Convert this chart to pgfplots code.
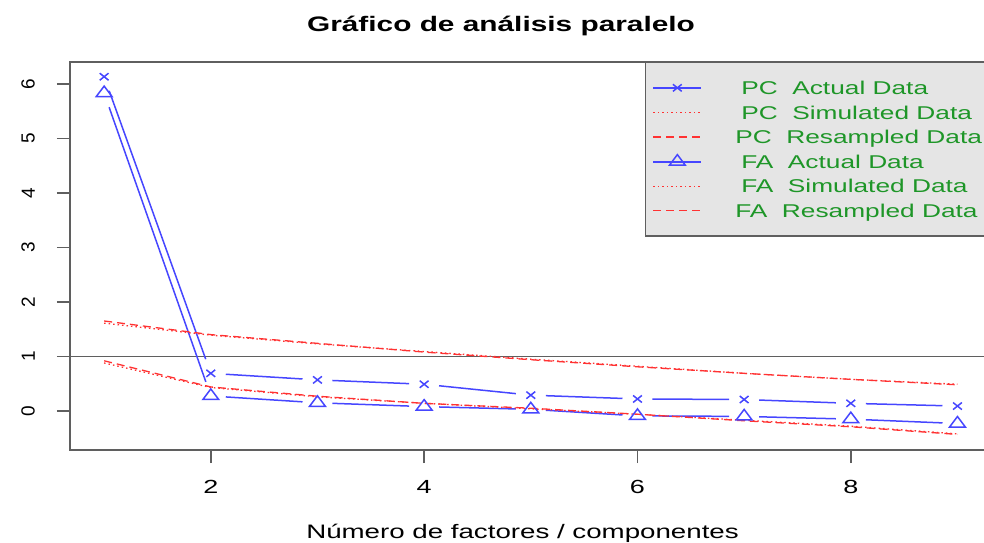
\documentclass[border=0pt]{standalone}
\usepackage{fontspec}
\setmainfont[FakeStretch=1.42]{Liberation Sans}
\newfontfamily\plainfont{Liberation Sans}
\usepackage{pgfplots}
\pgfplotsset{compat=1.18}
\definecolor{rblue}{RGB}{70,70,255}
\definecolor{rred}{RGB}{255,50,50}
\definecolor{rgreen}{RGB}{30,150,40}
\definecolor{rgray}{RGB}{95,95,95}
\definecolor{legfill}{RGB}{229,229,229}
\tikzset{
  rdot/.style={dash pattern={on 1.5pt off 3pt}},
  rdash/.style={dash pattern={on 8pt off 5pt}},
}
\pgfplotsset{
  bseg/.style={rblue, line width=1.5pt, shorten <=15pt, shorten >=15pt, forget plot, mark=none},
  redline/.style={rred, line width=1.3pt, mark=none},
}
\begin{document}
\begin{tikzpicture}[x=1pt,y=1pt]
\begin{axis}[
  at={(70pt,92pt)}, anchor=south west,
  scale only axis, width=921.6pt, height=388pt,
  xmin=0.68, xmax=9.32, ymin=-0.716, ymax=6.40,
  xtick={2,4,6,8}, ytick={0,1,2,3,4,5,6},
  xtick pos=bottom, ytick pos=left,
  tick align=outside,
  major tick length=13pt,
  axis line style={rgray, line width=1.5pt},
  tick style={rgray, line width=1.5pt},
  /pgf/number format/assume math mode=true,
  xticklabel style={font=\fontsize{19}{22}\selectfont, anchor=north, inner sep=0pt, yshift=-17pt},
  yticklabel style={font=\plainfont\fontsize{19}{22}\selectfont, rotate=90, anchor=south, inner sep=0pt, yshift=22pt},
  legend style={at={(rel axis cs:1,1)}, anchor=north east, fill=legfill, draw=rgray, line width=1.5pt,
    text=rgreen, font=\fontsize{18.5}{22}\selectfont, inner xsep=0pt, inner ysep=12.8pt, row sep=0pt,
    nodes={inner sep=0pt, text height=18.9pt, text depth=5.7pt}},
  legend cell align=left,
]
% horizontal reference line
\addplot[rgray, line width=1.5pt, forget plot] coordinates {(0.68,1) (9.32,1)};
% PC actual segments
\addplot[bseg] coordinates {(1,6.13) (2,0.69)};
\addplot[bseg] coordinates {(2,0.69) (3,0.57)};
\addplot[bseg] coordinates {(3,0.57) (4,0.49)};
\addplot[bseg] coordinates {(4,0.49) (5,0.29)};
\addplot[bseg] coordinates {(5,0.29) (6,0.22)};
\addplot[bseg] coordinates {(6,0.22) (7,0.21)};
\addplot[bseg] coordinates {(7,0.21) (8,0.14)};
\addplot[bseg] coordinates {(8,0.14) (9,0.09)};
% FA actual segments
\addplot[bseg] coordinates {(1,5.83) (2,0.275)};
\addplot[bseg] coordinates {(2,0.275) (3,0.15)};
\addplot[bseg] coordinates {(3,0.15) (4,0.08)};
\addplot[bseg] coordinates {(4,0.08) (5,0.03)};
\addplot[bseg] coordinates {(5,0.03) (6,-0.09)};
\addplot[bseg] coordinates {(6,-0.09) (7,-0.10)};
\addplot[bseg] coordinates {(7,-0.10) (8,-0.15)};
\addplot[bseg] coordinates {(8,-0.15) (9,-0.23)};
% PC actual marks
\addplot[rblue, only marks, mark=x, mark size=5pt, mark options={xscale=1.25, line width=1.5pt},
  legend image code/.code={\path[draw=none] (0pt,0pt) -- (56pt,0pt);
    \path[draw=rblue, color=rblue, line width=1.8pt, solid] (8pt,0pt) -- (56pt,0pt);
    \path[draw=rblue, color=rblue, line width=1.5pt, solid] plot[mark=x, mark size=5pt, mark options={draw=rblue, xscale=1.25}] coordinates {(32pt,0pt)};}]
  coordinates {(1,6.13) (2,0.69) (3,0.57) (4,0.49) (5,0.29) (6,0.22) (7,0.21) (8,0.14) (9,0.09)};
\addlegendentry{\makebox[288.6pt][l]{\hspace{39pt}PC\ \ Actual Data}}
% PC simulated
\addplot[redline, rdot,
  legend image code/.code={\path[draw=none] (0pt,0pt) -- (56pt,0pt); \draw[draw=rred, line width=1.3pt, rdot] (8pt,0pt) -- (56pt,0pt);}]
  coordinates {(1,1.61) (2,1.39) (3,1.23) (4,1.09) (5,0.95) (6,0.82) (7,0.69) (8,0.58) (9,0.49)};
\addlegendentry{\makebox[288.6pt][l]{\hspace{39pt}PC\ \ Simulated Data}}
% PC resampled
\addplot[redline, rdash,
  legend image code/.code={\path[draw=none] (0pt,0pt) -- (56pt,0pt); \draw[draw=rred, line width=1.3pt, rdash] (8pt,0pt) -- (56pt,0pt);}]
  coordinates {(1,1.65) (2,1.40) (3,1.24) (4,1.08) (5,0.94) (6,0.81) (7,0.69) (8,0.58) (9,0.48)};
\addlegendentry{\makebox[288.6pt][l]{\hspace{33pt}PC\ \ Resampled Data}}
% FA actual marks
\addplot[rblue, only marks, mark=triangle, mark size=7pt, mark options={xscale=1.3, line width=1.5pt},
  legend image code/.code={\path[draw=none] (0pt,0pt) -- (56pt,0pt);
    \path[draw=rblue, color=rblue, line width=1.8pt, solid] (8pt,0pt) -- (56pt,0pt);
    \path[draw=rblue, color=rblue, line width=1.5pt, solid] plot[mark=triangle, mark size=7pt, mark options={draw=rblue, fill=legfill, xscale=1.3}] coordinates {(32pt,0pt)};}]
  coordinates {(1,5.83) (2,0.275) (3,0.15) (4,0.08) (5,0.03) (6,-0.09) (7,-0.10) (8,-0.15) (9,-0.23)};
\addlegendentry{\makebox[288.6pt][l]{\hspace{39pt}FA\ \ Actual Data}}
% FA simulated
\addplot[redline, rdot,
  legend image code/.code={\path[draw=none] (0pt,0pt) -- (56pt,0pt); \draw[draw=rred, line width=1.3pt, rdot] (8pt,0pt) -- (56pt,0pt);}]
  coordinates {(1,0.88) (2,0.43) (3,0.26) (4,0.14) (5,0.04) (6,-0.06) (7,-0.17) (8,-0.28) (9,-0.42)};
\addlegendentry{\makebox[288.6pt][l]{\hspace{39pt}FA\ \ Simulated Data}}
% FA resampled
\addplot[redline, rdash,
  legend image code/.code={\path[draw=none] (0pt,0pt) -- (56pt,0pt); \draw[draw=rred, line width=1.3pt, rdash] (8pt,0pt) -- (56pt,0pt);}]
  coordinates {(1,0.92) (2,0.44) (3,0.27) (4,0.14) (5,0.05) (6,-0.06) (7,-0.18) (8,-0.29) (9,-0.43)};
\addlegendentry{\makebox[288.6pt][l]{\hspace{33pt}FA\ \ Resampled Data}}
\end{axis}
\node[font=\bfseries\fontsize{21}{25}\selectfont, anchor=base] at (501pt,510.3pt) {Gráfico de análisis paralelo};
\node[font=\fontsize{19.5}{23}\selectfont, anchor=base] at (522.5pt,4pt) {Número de factores / componentes};
\pgfresetboundingbox
\useasboundingbox (0pt,0pt) rectangle (984pt,542pt);
\end{tikzpicture}
\end{document}
